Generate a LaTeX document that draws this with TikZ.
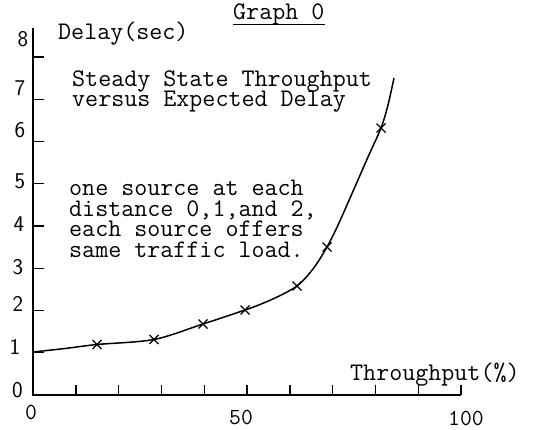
\documentclass[tikz,border=0pt]{standalone}
\usepackage{fontspec}
\newcommand\twfont{\ttfamily\fontsize{25.3}{20}\selectfont}
\begin{document}
\begin{tikzpicture}[x=1pt,y=-1pt,
  txt/.style={font=\twfont, inner sep=0pt, anchor=base west},
  ylab/.style={font=\sffamily\fontsize{22.5}{22}\selectfont, inner sep=0pt},
  xlab/.style={font=\ttfamily\fontsize{23}{22}\selectfont, inner sep=0pt, anchor=base},
  axisline/.style={line width=2pt},
  tickline/.style={line width=1.4pt},
  curveline/.style={line width=1.5pt},
  xmark/.style={line width=1.4pt}]
\useasboundingbox (0,0) rectangle (535,430);
% axes
\coordinate (O) at (33,395);
\coordinate (ytop) at (33,28);
\coordinate (xend) at (461,395);
\draw[axisline] (ytop) -- (O) -- (xend);
\foreach \i in {1,...,10} \draw[tickline] (33+42.8*\i,395) -- ++(0,-10);
\foreach \i in {1,...,8} \draw[tickline] (33,395-42.25*\i) -- ++(11,0);
% y labels
\node[ylab] (y0) at (17.5,390) {0};
\node[ylab] (y1) at (15,347) {1};
\node[ylab] (y2) at (18,304) {2};
\node[ylab] (y3) at (18,267) {3};
\node[ylab] (y4) at (19,224) {4};
\node[ylab] (y5) at (20,181) {5};
\node[ylab] (y6) at (20,130) {6};
\node[ylab] (y7) at (20,88) {7};
\node[ylab] (y8) at (23,39) {8};
% x labels
\node[xlab] (x0) at (31,419) {0};
\node[xlab] (x50) at (241,424) {50};
\node[xlab] (x100) at (466,425) {100};
% texts
\node[txt] (g0) at (233,20) {Graph 0};
\draw[line width=1pt] ([yshift=-5pt]g0.base west) -- ([yshift=-5pt]g0.base east);
\node[txt] (dl) at (58,40) {Delay(sec)};
\node[txt] (t1) at (72,87) {Steady State Throughput};
\node[txt] (t2) at (72,107) {versus Expected Delay};
\node[txt] (s1) at (69,196) {one source at each};
\node[txt] (s2) at (69,216.5) {distance 0,1,and 2,};
\node[txt] (s3) at (69,237) {each source offers};
\node[txt] (s4) at (69,257.5) {same traffic load.};
\node[txt] (tp) at (350,380) {Throughput(\%)};
% curve
\draw[curveline] plot[smooth, tension=0.5] coordinates {(33,352) (65,348.5) (97,344.5) (154,339.5) (203,324) (245,310) (260,304.5) (275,298) (287,292) (297,286) (305,278.5) (313,269) (320,258.7) (327,247) (334,233.5) (341,218.5) (354,189) (368,157) (381,128) (388,105) (394,78)};
% markers
\foreach \p in {(97,344.5),(154,339.5),(203,324),(245,310),(297,286),(327,247),(381,128)}
  \draw[xmark] \p ++(-4.5,-4.5) -- ++(9,9) \p ++(-4.5,4.5) -- ++(9,-9);
\end{tikzpicture}
\end{document}
